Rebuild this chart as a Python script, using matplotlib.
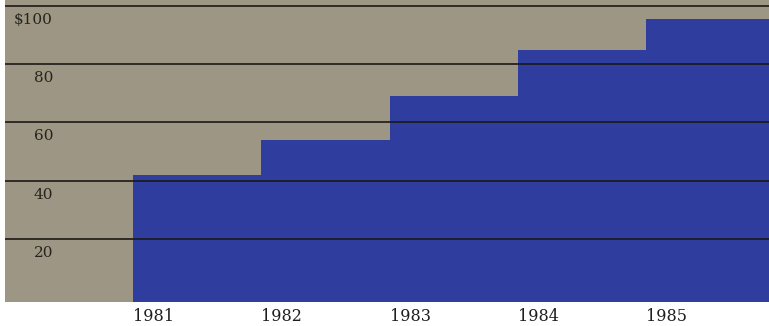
import numpy as np
import matplotlib
matplotlib.use("Agg")
import matplotlib.pyplot as plt

# yearly values (dollars)
years = [1981, 1982, 1983, 1984, 1985]
values = [42, 54, 69, 85, 95.5]
grid_levels = [20, 40, 60, 80, 100]
grid_labels = ["20", "40", "60", "80", "$100"]

bg_color = "#9e9684"
fill_color = "#2f3e9e"

plt.rcParams["font.family"] = ["DejaVu Serif"]

fig = plt.figure(figsize=(7.69, 3.26), dpi=100, facecolor="white")
ax = fig.add_axes([5 / 769, 24 / 326, 764 / 769, 302 / 326])
ax.set_facecolor(bg_color)

edges = years + [years[-1] + 1]
ax.stairs(values, edges, fill=True, color=fill_color, baseline=-3, zorder=1)

for lvl, lab in zip(grid_levels, grid_labels):
    ax.axhline(lvl, color="#1a1a14", lw=1.2, zorder=2)
    ax.text(1980.375, lvl - 4.8, lab, ha="right", va="center",
            fontsize=11, color="#25251e", zorder=3)

ax.set_xlim(1980, 1985.96)
ax.set_ylim(-1.7, 102.1)

ax.set_xticks(years)
ax.set_xticklabels([str(y) for y in years], fontsize=11.5, color="#1e1e1e")
for lab in ax.get_xticklabels():
    lab.set_ha("left")
ax.tick_params(axis="x", length=0, pad=4)
ax.set_yticks([])

for s in ax.spines.values():
    s.set_visible(False)

fig.savefig("out.png", dpi=100, facecolor="white")
